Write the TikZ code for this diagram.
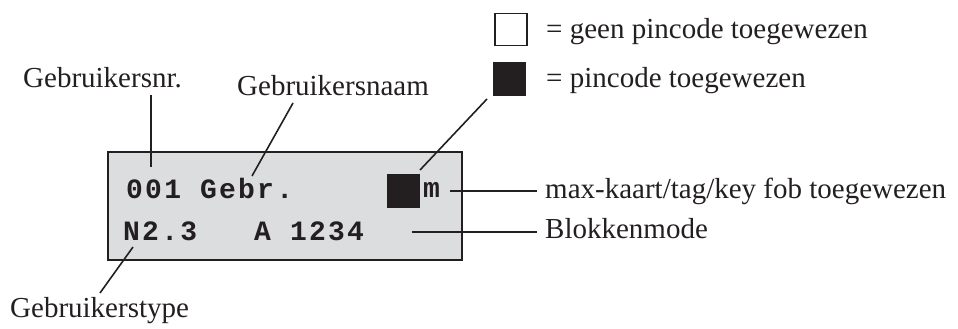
\documentclass[tikz,border=0pt]{standalone}
\usepackage{fontspec}
\setmainfont{Liberation Serif}
\newfontfamily\lcdfont{Liberation Mono}[LetterSpace=8]
\definecolor{ink}{RGB}{35,31,32}
\definecolor{lcdgray}{RGB}{220,221,223}
\begin{document}
\begin{tikzpicture}[x=1pt,y=-1pt,
  lbl/.style={anchor=base west, inner sep=0pt, text=ink, font=\fontsize{29}{34}\selectfont},
  lcd/.style={anchor=base west, inner sep=0pt, text=ink, font=\lcdfont\bfseries\fontsize{28}{32}\selectfont},
  lead/.style={line width=1.6pt, draw=ink}]
\useasboundingbox (0,0) rectangle (958,329);
% display
\node[draw=ink, line width=2pt, fill=lcdgray, minimum width=354pt, minimum height=108pt,
      anchor=north west, inner sep=0pt] (disp) at (107,151) {};
\node[lcd] (line1) at (126,198) {001 Gebr.};
\node[lcd] (line2) at (123,240) {N2.3\ \ \ A 1234};
\node[fill=ink, minimum width=33pt, minimum height=34pt, inner sep=0pt] (pinsq) at (403.5,191) {};
\node[lcd] (mchar) at (423,197) {m};
% legend
\node[draw=ink, line width=1.8pt, minimum size=32pt, inner sep=0pt] (emptysq) at (511,29.5) {};
\node[fill=ink, minimum width=33pt, minimum height=34pt, inner sep=0pt] (fullsq) at (509.5,79) {};
\node[lbl] (leg1) at (546,39) {= geen pincode toegewezen};
\node[lbl] (leg2) at (546,87) {= pincode toegewezen};
% labels
\node[lbl] (nr) at (23,87) {Gebruikersnr.};
\node[lbl] (naam) at (237,95) {Gebruikersnaam};
\node[lbl] (type) at (10,317) {Gebruikerstype};
\node[lbl] (maxk) at (545,198) {max-kaart/tag/key fob toegewezen};
\node[lbl] (blok) at (545,238) {Blokkenmode};
% leader coordinates
\coordinate (nrA) at (151,95);   \coordinate (nrB) at (151,167);
\coordinate (naA) at (293,103);  \coordinate (naB) at (252,176);
\coordinate (tyA) at (133,247);  \coordinate (tyB) at (100,293);
\coordinate (piA) at (420,170);  \coordinate (piB) at (487,99);
\coordinate (mA) at (450,191);   \coordinate (mB) at (537,191);
\coordinate (bA) at (412,232);   \coordinate (bB) at (537,232);
\draw[lead] (nrA) -- (nrB);
\draw[lead] (naA) -- (naB);
\draw[lead] (tyA) -- (tyB);
\draw[lead] (piA) -- (piB);
\draw[lead] (mA) -- (mB);
\draw[lead] (bA) -- (bB);
\end{tikzpicture}
\end{document}
